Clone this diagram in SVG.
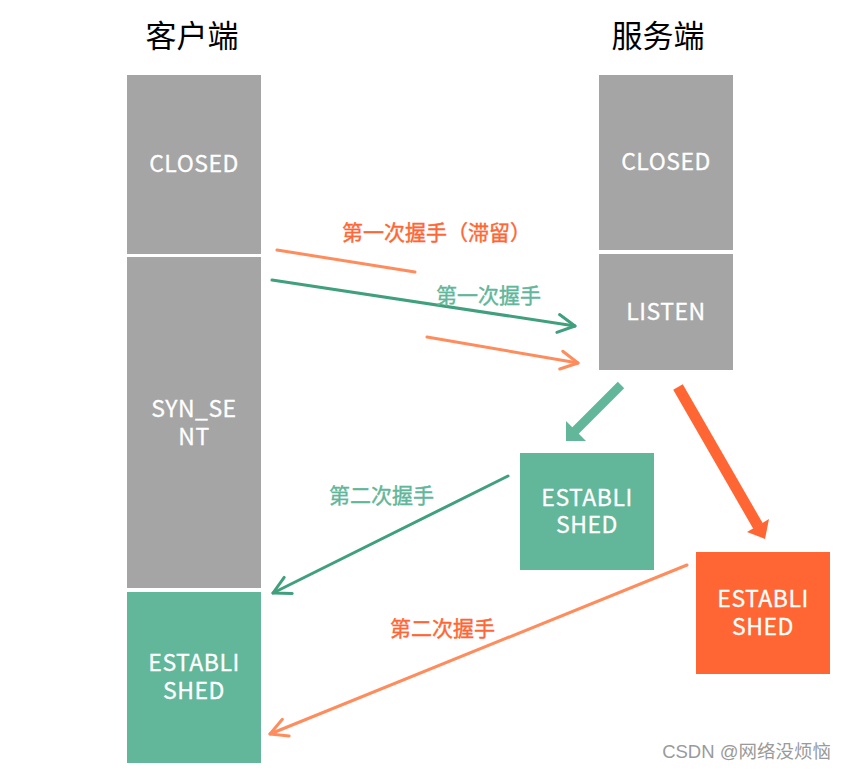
<svg xmlns="http://www.w3.org/2000/svg" width="846" height="771" viewBox="0 0 846 771">
  <style>
    .box-gray { fill: #a5a5a5; }
    .box-green { fill: #62b69a; }
    .box-orange { fill: #ff6633; }
    .state { font-family: "Noto Sans CJK SC", "Noto Sans", sans-serif; font-size: 23px; fill: #ffffff; stroke: #ffffff; stroke-width: 0.3; text-anchor: middle; letter-spacing: 0.5px; }
    .title { font-family: "Noto Sans CJK SC", sans-serif; font-size: 31px; fill: #000000; text-anchor: middle; }
    .lbl { font-family: "Noto Sans CJK SC", sans-serif; font-size: 21px; stroke-width: 0.4; }
    .lbl-orange { fill: #ff6633; stroke: #ff6633; }
    .lbl-green { fill: #62b69a; stroke: #62b69a; }
    .thin-green { fill: none; stroke: #40a07e; stroke-width: 3; stroke-linecap: round; }
    .thin-orange { fill: none; stroke: #ff8c5c; stroke-width: 3; stroke-linecap: round; }
    .wm { font-family: "Liberation Sans", "Noto Sans CJK SC", sans-serif; font-size: 18.5px; fill: #9a9a9a; text-anchor: end; }
  </style>
  <defs>
    <marker id="chev-green" markerUnits="userSpaceOnUse" viewBox="-20 -12 24 24" refX="0" refY="0" markerWidth="24" markerHeight="24" orient="auto">
      <path d="M-17,-9 L0,0 L-17,9" fill="none" stroke="#40a07e" stroke-width="3" stroke-linecap="round" stroke-linejoin="round"/>
    </marker>
    <marker id="chev-orange" markerUnits="userSpaceOnUse" viewBox="-20 -12 24 24" refX="0" refY="0" markerWidth="24" markerHeight="24" orient="auto">
      <path d="M-17,-9 L0,0 L-17,9" fill="none" stroke="#ff8c5c" stroke-width="3" stroke-linecap="round" stroke-linejoin="round"/>
    </marker>
  </defs>
  <rect width="846" height="771" fill="#ffffff"/>

  <text class="title" x="192" y="47">客户端</text>
  <text class="title" x="658" y="47">服务端</text>

  <g id="client-closed">
    <rect class="box-gray" x="127" y="75" width="134" height="179"/>
    <text class="state" x="194" y="172">CLOSED</text>
  </g>
  <g id="client-syn-sent">
    <rect class="box-gray" x="127" y="257" width="134" height="331"/>
    <text class="state" x="194" y="417">SYN_SE</text>
    <text class="state" x="194" y="445">NT</text>
  </g>
  <g id="client-established">
    <rect class="box-green" x="127" y="592" width="134" height="171"/>
    <text class="state" x="194" y="671">ESTABLI</text>
    <text class="state" x="194" y="699">SHED</text>
  </g>
  <g id="server-closed">
    <rect class="box-gray" x="599" y="75" width="134" height="175"/>
    <text class="state" x="666" y="170">CLOSED</text>
  </g>
  <g id="server-listen">
    <rect class="box-gray" x="599" y="254" width="134" height="116"/>
    <text class="state" x="666" y="320">LISTEN</text>
  </g>
  <g id="server-established-green">
    <rect class="box-green" x="520" y="453" width="134" height="117"/>
    <text class="state" x="587" y="506">ESTABLI</text>
    <text class="state" x="587" y="533">SHED</text>
  </g>
  <g id="server-established-orange">
    <rect class="box-orange" x="696" y="552" width="134" height="122"/>
    <text class="state" x="763" y="607">ESTABLI</text>
    <text class="state" x="763" y="635">SHED</text>
  </g>

  <g id="connectors">
    <line class="thin-orange" x1="277" y1="250" x2="415" y2="272"/>
    <line class="thin-green" x1="272" y1="280" x2="575" y2="326" marker-end="url(#chev-green)"/>
    <line class="thin-orange" x1="427" y1="337" x2="578" y2="363" marker-end="url(#chev-orange)"/>
    <line class="thin-green" x1="508" y1="476" x2="273" y2="593" marker-end="url(#chev-green)"/>
    <line class="thin-orange" x1="687" y1="565" x2="270" y2="734" marker-end="url(#chev-orange)"/>
    <line x1="621" y1="385" x2="574" y2="432" stroke="#62b69a" stroke-width="9"/>
    <polygon points="566,441 566,421 586,441" fill="#62b69a"/>
    <line x1="678" y1="387" x2="758" y2="526" stroke="#ff6633" stroke-width="11"/>
    <polygon points="765,539 769,519 747,532" fill="#ff6633"/>
  </g>

  <text class="lbl lbl-orange" x="342" y="240">第一次握手（滞留）</text>
  <text class="lbl lbl-green" x="436" y="303">第一次握手</text>
  <text class="lbl lbl-green" x="329" y="503">第二次握手</text>
  <text class="lbl lbl-orange" x="390" y="636">第二次握手</text>

  <text class="wm" x="831" y="758">CSDN @网络没烦恼</text>
</svg>
